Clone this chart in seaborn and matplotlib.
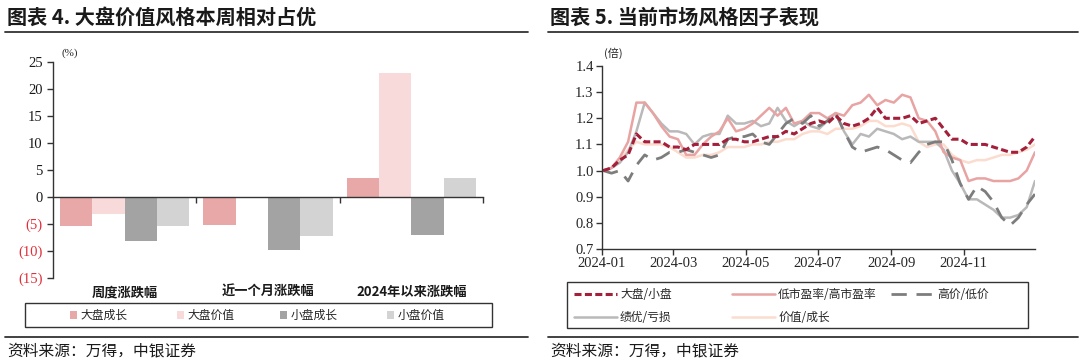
import matplotlib
matplotlib.use("Agg")
import matplotlib.pyplot as plt
import matplotlib.dates as mdates
from matplotlib.lines import Line2D
from matplotlib.patches import Patch, Rectangle
import numpy as np
import pandas as pd
import seaborn as sns

# ---- left chart: style returns ----
categories = ["周度涨跌幅", "近一个月涨跌幅", "2024年以来涨跌幅"]
bar_series = ["大盘成长", "大盘价值", "小盘成长", "小盘价值"]
large_growth = [-5.3, -5.1, 3.5]
large_value = [-3.1, 0.0, 22.9]
small_growth = [-8.2, -9.8, -7.1]
small_value = [-5.3, -7.2, 3.5]
bar_colours = ["#e8a8a8", "#f8dada", "#a3a3a3", "#d3d3d3"]
bar_ticks = [25, 20, 15, 10, 5, 0, -5, -10, -15]

# ---- right chart: style factor ratios (weekly) ----
dates = pd.date_range("2024-01-02", "2024-12-31", freq="7D")
big_small = [1.00, 1.01, 1.04, 1.06, 1.14, 1.11, 1.11, 1.11, 1.09, 1.09,
             1.08, 1.10, 1.10, 1.10, 1.10, 1.12, 1.12, 1.11, 1.11, 1.12,
             1.13, 1.13, 1.15, 1.14, 1.16, 1.18, 1.19, 1.18, 1.21, 1.18,
             1.17, 1.18, 1.20, 1.24, 1.20, 1.20, 1.20, 1.21, 1.18, 1.19,
             1.20, 1.16, 1.12, 1.12, 1.10, 1.10, 1.10, 1.09, 1.08, 1.07,
             1.07, 1.09, 1.13]
low_high_pe = [1.00, 1.01, 1.05, 1.11, 1.26, 1.26, 1.22, 1.17, 1.13, 1.12,
               1.06, 1.06, 1.10, 1.13, 1.15, 1.20, 1.15, 1.16, 1.18, 1.21,
               1.24, 1.21, 1.24, 1.18, 1.19, 1.22, 1.22, 1.20, 1.22, 1.21,
               1.25, 1.26, 1.29, 1.25, 1.27, 1.26, 1.29, 1.28, 1.20, 1.19,
               1.15, 1.07, 1.05, 1.04, 0.96, 0.97, 0.97, 0.96, 0.96, 0.96,
               0.97, 1.00, 1.07]
high_low_price = [1.00, 0.99, 1.00, 0.96, 1.02, 1.06, 1.04, 1.05, 1.07, 1.07,
                  1.08, 1.07, 1.06, 1.05, 1.06, 1.12, 1.13, 1.13, 1.14, 1.11,
                  1.10, 1.14, 1.18, 1.20, 1.18, 1.21, 1.17, 1.19, 1.22, 1.15,
                  1.09, 1.07, 1.08, 1.09, 1.08, 1.06, 1.04, 1.03, 1.07, 1.10,
                  1.11, 1.11, 1.04, 0.95, 0.89, 0.94, 0.92, 0.88, 0.82, 0.79,
                  0.82, 0.87, 0.91]
profit_loss = [1.00, 1.01, 1.03, 1.07, 1.15, 1.26, 1.22, 1.18, 1.15, 1.15,
               1.14, 1.10, 1.13, 1.14, 1.14, 1.21, 1.18, 1.18, 1.19, 1.17,
               1.18, 1.24, 1.19, 1.17, 1.19, 1.17, 1.16, 1.19, 1.22, 1.15,
               1.10, 1.14, 1.13, 1.16, 1.15, 1.14, 1.12, 1.13, 1.11, 1.11,
               1.11, 1.08, 1.00, 0.95, 0.89, 0.89, 0.87, 0.85, 0.82, 0.82,
               0.83, 0.86, 0.96]
value_growth = [1.00, 1.01, 1.04, 1.08, 1.11, 1.10, 1.10, 1.10, 1.09, 1.07,
                1.05, 1.05, 1.06, 1.06, 1.07, 1.09, 1.09, 1.09, 1.10, 1.10,
                1.11, 1.11, 1.12, 1.12, 1.14, 1.15, 1.15, 1.14, 1.16, 1.16,
                1.16, 1.17, 1.19, 1.19, 1.17, 1.17, 1.18, 1.17, 1.11, 1.09,
                1.10, 1.10, 1.06, 1.04, 1.03, 1.04, 1.04, 1.05, 1.06, 1.06,
                1.07, 1.08, 1.10]
line_names = ["大盘/小盘", "低市盈率/高市盈率", "高价/低价", "绩优/亏损", "价值/成长"]
line_ticks = [0.7, 0.8, 0.9, 1.0, 1.1, 1.2, 1.3, 1.4]
date_ticks = ["2024-01-01", "2024-03-01", "2024-05-01", "2024-07-01",
              "2024-09-01", "2024-11-01"]

CJK = ["Noto Sans CJK SC", "DejaVu Sans"]
SERIF = ["Liberation Serif", "DejaVu Serif"]
W, H = 1080, 364


def fx(px):
    return px / W


def fy(py):
    return 1 - py / H


def place_legend(handles, x, y_top, **kw):
    """Single-column legend with its top-left corner at pixel (x, y_top)."""
    opts = dict(loc="upper left", bbox_to_anchor=(fx(x), fy(y_top)), ncol=1,
                frameon=False, borderpad=0, borderaxespad=0, fontsize=8.5,
                handletextpad=0.3, labelspacing=0.85)
    opts.update(kw)
    return fig.legend(handles=handles, **opts)


def frame_box(x0, y0, x1, y1):
    fig.add_artist(Rectangle((fx(x0), fy(y1)), fx(x1 - x0), (y1 - y0) / H,
                             transform=fig.transFigure, fill=False,
                             edgecolor="#333333", lw=1))


sns.set_theme(style="white")
plt.rcParams["font.family"] = CJK
plt.rcParams["axes.unicode_minus"] = False

fig = plt.figure(figsize=(W / 100, H / 100), dpi=100)
fig.patch.set_facecolor("white")

# titles, rules and sources
for x0, x1, title in [(5, 528, "图表 4. 大盘价值风格本周相对占优"),
                      (548, 1078, "图表 5. 当前市场风格因子表现")]:
    fig.text(fx(x0 + 2), fy(17), title, fontsize=14.5, fontweight="bold",
             va="center", ha="left", color="#1a1a1a")
    fig.add_artist(Line2D([fx(x0), fx(x1)], [fy(32), fy(32)], color="#333333", lw=1.3))
    fig.add_artist(Line2D([fx(x0), fx(x1)], [fy(337), fy(337)], color="#333333", lw=1.3))
    fig.text(fx(x0 + 2), fy(351), "资料来源：万得，中银证券", fontsize=11.3,
             va="center", ha="left", color="#1a1a1a", style="italic")

# ---------------- left: bar chart ----------------
ax1 = fig.add_axes([fx(53), fy(278), fx(430), (278 - 62) / H])
bars = pd.DataFrame({
    "category": np.repeat(categories, len(bar_series)),
    "series": bar_series * len(categories),
    "value": np.column_stack([large_growth, large_value, small_growth, small_value]).ravel(),
})
sns.barplot(data=bars, x="category", y="value", hue="series", hue_order=bar_series,
            palette=bar_colours, saturation=1, width=0.9, linewidth=0,
            legend=False, ax=ax1)
ax1.set_xlim(-0.5, len(categories) - 0.5)
ax1.set_ylim(-15, 25)
ax1.set_yticks(bar_ticks)
ax1.set_yticklabels([f"({abs(v)})" if v < 0 else f"{v}" for v in bar_ticks],
                    fontfamily=SERIF, fontsize=10.5)
for lbl, v in zip(ax1.get_yticklabels(), bar_ticks):
    lbl.set_color("#e0303a" if v < 0 else "#1a1a1a")
ax1.spines[["top", "right"]].set_visible(False)
ax1.spines["bottom"].set_position(("data", 0))
for s in ["left", "bottom"]:
    ax1.spines[s].set_color("#333333")
    ax1.spines[s].set_linewidth(1)
ax1.set_xticks(np.arange(len(categories)) + 0.5)
ax1.set_xticklabels([])
ax1.tick_params(axis="both", direction="out", length=4, width=1, color="#333333",
                left=True, bottom=True)
ax1.set_xlabel("")
ax1.set_ylabel("")
for i, cat in enumerate(categories):
    ax1.text(i, -0.065, cat, transform=ax1.get_xaxis_transform(), ha="center",
             va="center", fontsize=9.5, color="#1a1a1a", fontweight="bold")
fig.text(fx(70), fy(53), "(%)", fontsize=8, fontfamily=SERIF, ha="center", va="center")

frame_box(25, 303, 492, 327)
for colour, name, x in zip(bar_colours, bar_series, [70, 177, 280, 387]):
    place_legend([Patch(facecolor=colour, edgecolor="none", label=name)], x, 309,
                 handlelength=0.6, handleheight=0.6)

# ---------------- right: line chart ----------------
ax2 = fig.add_axes([fx(602), fy(249), fx(433), (249 - 66) / H])
lines = pd.DataFrame({"date": dates, line_names[0]: big_small, line_names[1]: low_high_pe,
                      line_names[2]: high_low_price, line_names[3]: profit_loss,
                      line_names[4]: value_growth})
line_styles = {
    line_names[0]: dict(color="#a31f3a", lw=2.2, dashes=(2.3, 1.1)),
    line_names[1]: dict(color="#e8a3a3", lw=1.8, dashes=None),
    line_names[2]: dict(color="#7d7d7d", lw=2.0, dashes=(5.5, 3.5)),
    line_names[3]: dict(color="#b9b9b9", lw=1.8, dashes=None),
    line_names[4]: dict(color="#fbdccf", lw=1.8, dashes=None),
}
draw_order = [line_names[4], line_names[3], line_names[1], line_names[2], line_names[0]]
for name in draw_order:
    st = line_styles[name]
    sns.lineplot(data=lines, x="date", y=name, color=st["color"], lw=st["lw"], ax=ax2)
    if st["dashes"]:
        ax2.lines[-1].set_dashes(st["dashes"])
ax2.set_xlim(pd.Timestamp("2024-01-01"), pd.Timestamp("2024-12-31"))
ax2.set_ylim(0.7, 1.4)
ax2.set_yticks(line_ticks)
ax2.set_yticklabels([f"{v:.1f}" for v in line_ticks], fontfamily=SERIF, fontsize=10.5)
ax2.set_xticks(pd.to_datetime(date_ticks))
ax2.xaxis.set_major_formatter(mdates.DateFormatter("%Y-%m"))
for lbl in ax2.get_xticklabels():
    lbl.set_fontfamily(SERIF)
    lbl.set_fontsize(10.5)
ax2.spines[["top", "right"]].set_visible(False)
for s in ["left", "bottom"]:
    ax2.spines[s].set_color("#333333")
    ax2.spines[s].set_linewidth(1)
ax2.tick_params(axis="both", direction="out", length=4, width=1, color="#333333",
                left=True, bottom=True, pad=2)
ax2.set_xlabel("")
ax2.set_ylabel("")
fig.text(fx(613), fy(53), "(倍)", fontsize=8, ha="center", va="center")


def line_handle(name):
    st = line_styles[name]
    h = Line2D([], [], color=st["color"], lw=st["lw"], label=name)
    if st["dashes"]:
        h.set_dashes(st["dashes"])
    return h


frame_box(567, 282, 1028, 328)
legend_columns = [([line_names[0], line_names[3]], 574),
                  ([line_names[1], line_names[4]], 732),
                  ([line_names[2]], 891)]
for names, x in legend_columns:
    place_legend([line_handle(n) for n in names], x, 288, handlelength=3.6)

fig.savefig("out.png", dpi=100, facecolor="white")
